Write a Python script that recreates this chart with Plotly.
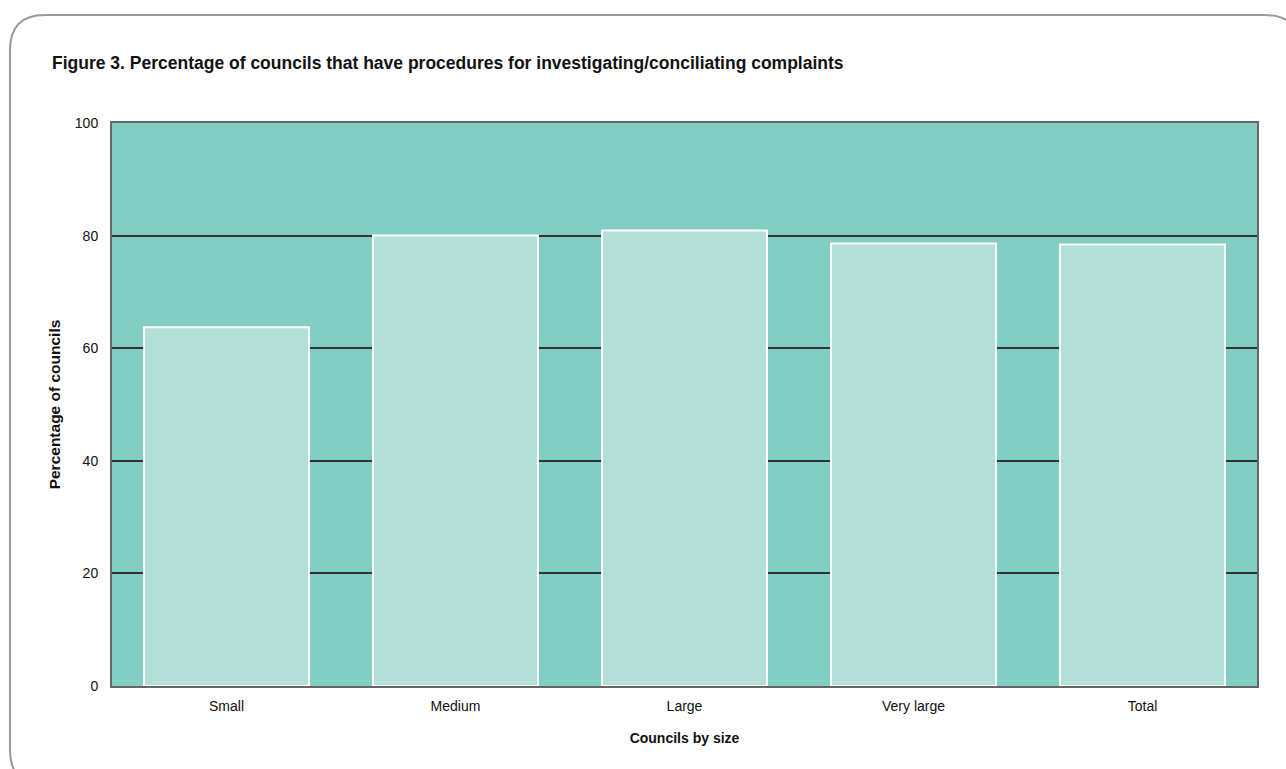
import plotly.graph_objects as go

categories = ["Small", "Medium", "Large", "Very large", "Total"]
percentages = [63.7, 80.0, 80.9, 78.6, 78.4]
y_ticks = [0, 20, 40, 60, 80, 100]

W, H = 1286, 769
L, R, T, B = 112, 29, 123, 83
PW, PH = W - L - R, H - T - B

FONT = "Liberation Sans, Arial, sans-serif"


def px(x):
    return (x - L) / PW


def py(y):
    return (H - B - y) / PH


fig = go.Figure()
fig.add_trace(go.Bar(
    x=categories,
    y=percentages,
    marker=dict(color="#B2DFD8", line=dict(color="#FFFFFF", width=2)),
    width=0.72,
    hoverinfo="x+y",
))

# rounded outer frame
pts = [
    ("M", (10, 50)), ("Q", (10, 15), (45, 15)), ("L", (1265, 15)),
    ("Q", (1300, 15), (1300, 50)), ("L", (1300, 750)),
    ("Q", (1300, 785), (1265, 785)), ("L", (45, 785)),
    ("Q", (10, 785), (10, 750)), ("Z",),
]
path = ""
for p in pts:
    path += p[0]
    for (a, b) in p[1:]:
        path += f" {px(a):.5f},{py(b):.5f} "
fig.add_shape(type="path", path=path, xref="paper", yref="paper",
              line=dict(color="#9A9A9A", width=2), fillcolor="rgba(0,0,0,0)",
              layer="above")

fig.update_layout(
    width=W, height=H,
    margin=dict(l=L, r=R, t=T, b=B),
    paper_bgcolor="#FFFFFF",
    plot_bgcolor="#83CEC2",
    showlegend=False,
    font=dict(family=FONT, size=14, color="#111111"),
    title=dict(
        text="<b>Figure 3. Percentage of councils that have procedures for investigating/conciliating complaints</b>",
        x=52 / W, xref="container", xanchor="left",
        y=1 - 63 / H, yref="container", yanchor="middle",
        font=dict(family=FONT, size=17.5, color="#111111"),
    ),
    bargap=0.28,
)
fig.update_xaxes(
    showline=True, linecolor="#666666", linewidth=2, mirror=True,
    ticks="", ticklabelstandoff=6,
    title=dict(text="<b>Councils by size</b>", standoff=20,
               font=dict(family=FONT, size=14)),
)
fig.update_yaxes(
    range=[0, 100], tickvals=y_ticks, ticktext=[str(v) for v in y_ticks],
    showgrid=True, gridcolor="#333333", gridwidth=1.5,
    showline=True, linecolor="#666666", linewidth=2, mirror=True,
    zeroline=False, ticks="", ticklabelstandoff=9,
    title=dict(text="<b>Percentage of councils</b>", standoff=10,
               font=dict(family=FONT, size=15.5)),
)

fig.write_html("out.html")
